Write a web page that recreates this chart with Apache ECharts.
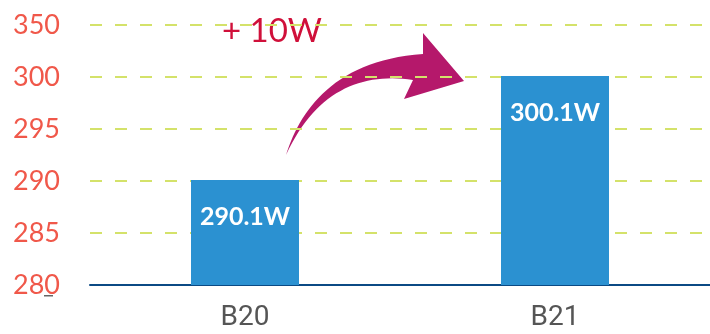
<!DOCTYPE html>
<html>
<head>
<meta charset="utf-8">
<script src="https://cdn.jsdelivr.net/npm/echarts@6/dist/echarts.min.js"></script>
<style>
  html, body { margin: 0; padding: 0; background: #fff; }
  #main { width: 710px; height: 334px; }
</style>
</head>
<body>
<div id="main"></div>
<script>
// data
var categories = ['B20', 'B21'];
var values = [290.1, 300.1];
// broken axis: the top tick reads 350 though it sits one step above 300
var yTickLabels = ['280', '285', '290', '295', '300', '350'];
var yMin = 280, yStep = 5;
var deltaText = '+ 10W';

// curved arrow outline (decoration), sampled from two cubic curves
function cubic(p0, p1, p2, p3, n) {
    var pts = [];
    for (var i = 0; i <= n; i++) {
        var t = i / n, u = 1 - t;
        pts.push([
            u * u * u * p0[0] + 3 * u * u * t * p1[0] + 3 * u * t * t * p2[0] + t * t * t * p3[0],
            u * u * u * p0[1] + 3 * u * u * t * p1[1] + 3 * u * t * t * p2[1] + t * t * t * p3[1]
        ]);
    }
    return pts;
}
var arrowPts = cubic([286, 155], [300, 110], [335, 60], [423, 54], 30)
    .concat([[423, 33], [464, 81], [404, 99]])
    .concat(cubic([413, 80], [360, 72], [315, 92], [286, 155], 30));

var chart = echarts.init(document.getElementById('main'));
chart.setOption({
    animation: false,
    grid: { left: 90, right: 0, top: 25, bottom: 49 },
    xAxis: {
        type: 'category',
        data: categories,
        axisTick: { show: false },
        axisLine: { lineStyle: { color: '#0b4a84', width: 2 } },
        axisLabel: { color: '#555', fontSize: 28, fontFamily: 'Roboto', margin: 19 }
    },
    yAxis: {
        type: 'value',
        min: yMin,
        max: yMin + yStep * (yTickLabels.length - 1),
        interval: yStep,
        axisLine: { show: false },
        axisTick: { show: false },
        axisLabel: {
            color: '#f0584a',
            fontSize: 27,
            fontFamily: 'Lato',
            margin: 30,
            formatter: function (v) {
                return yTickLabels[Math.round((v - yMin) / yStep)];
            }
        },
        splitLine: {
            lineStyle: { color: '#d4e26a', width: 2, type: [12, 13] }
        }
    },
    series: [{
        type: 'bar',
        data: values,
        barWidth: 108,
        itemStyle: { color: '#2b91d1' },
        label: {
            show: true,
            position: 'insideTop',
            distance: 24,
            color: '#fff',
            fontSize: 25,
            fontWeight: 'bold',
            fontFamily: 'Lato',
            formatter: function (p) { return p.value.toFixed(1) + 'W'; }
        }
    }],
    graphic: [
        {
            type: 'polygon',
            shape: { points: arrowPts },
            style: { fill: '#b5186b' }
        },
        {
            type: 'text',
            left: 222,
            top: 15,
            style: {
                text: deltaText,
                fill: '#d0103a',
                fontSize: 33,
                fontFamily: 'Lato'
            }
        },
        {
            type: 'rect',
            shape: { x: 44, y: 295, width: 9, height: 1.5 },
            style: { fill: '#666' }
        }
    ]
});
</script>
</body>
</html>
